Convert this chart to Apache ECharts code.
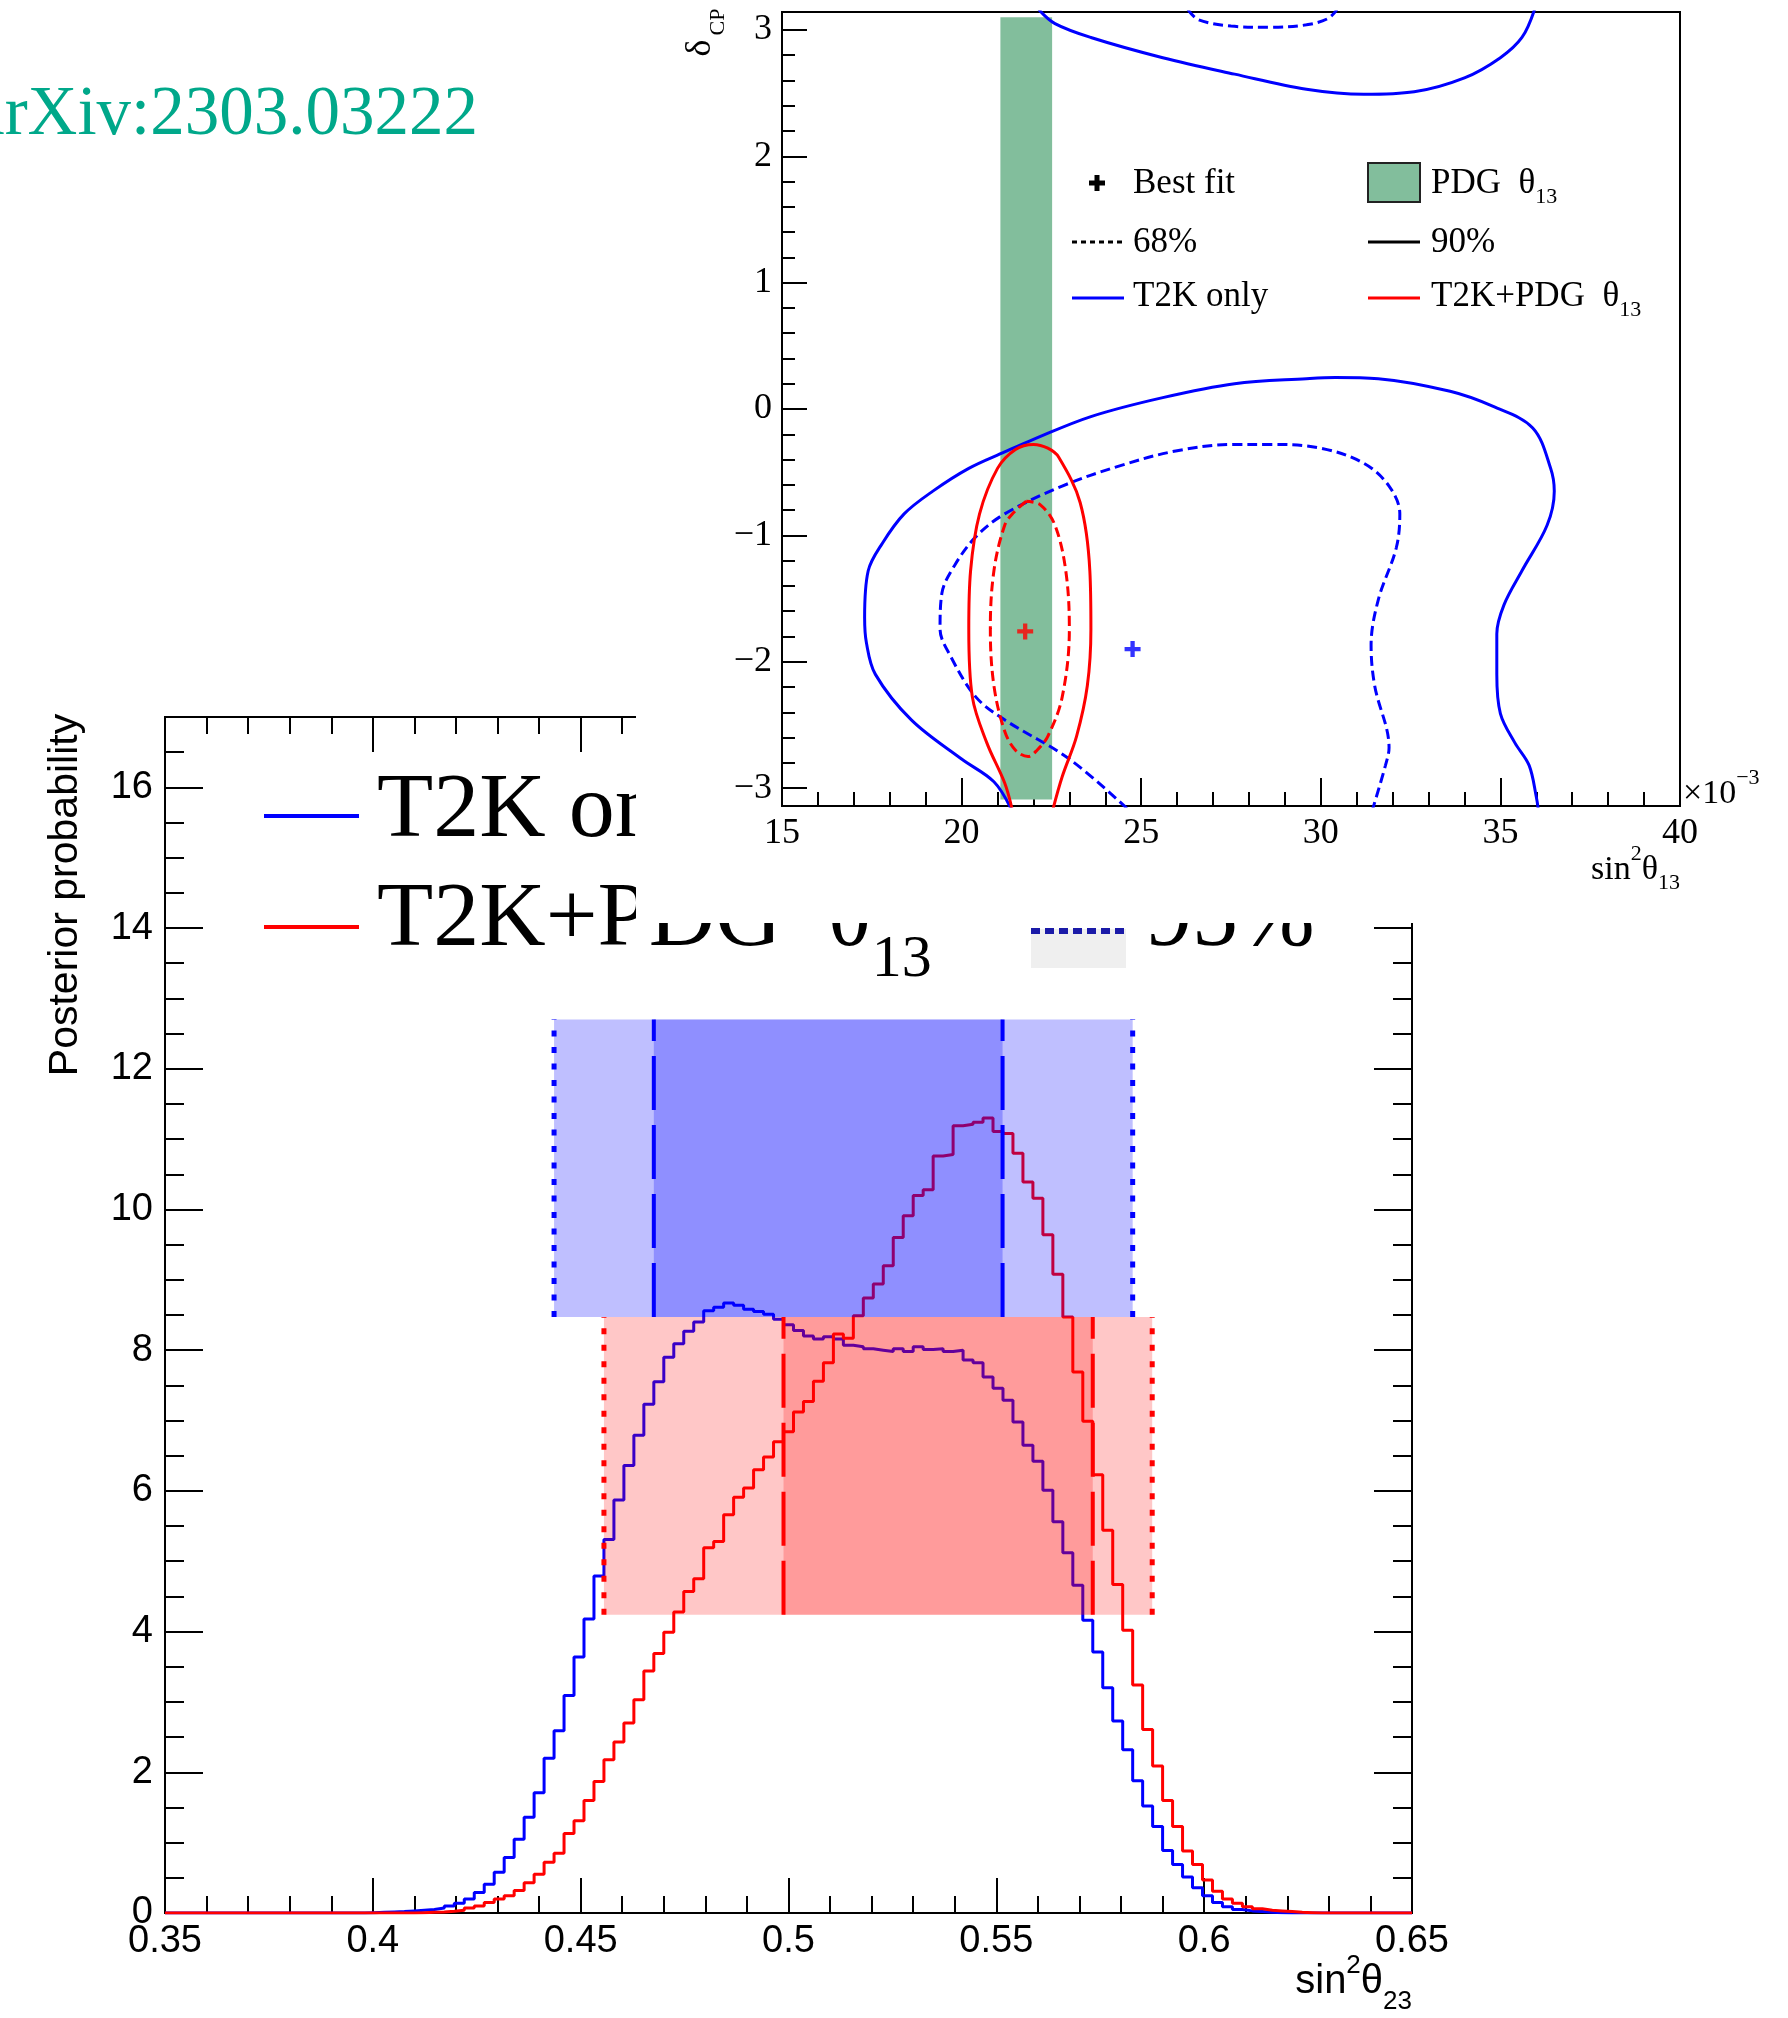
<!DOCTYPE html>
<html><head><meta charset="utf-8">
<script src="https://cdn.jsdelivr.net/npm/echarts@6/dist/echarts.min.js"></script>
<style>
html,body{margin:0;padding:0;background:#fff;width:1788px;height:2018px;overflow:hidden;}
#main{position:absolute;left:0;top:0;width:1788px;height:2018px;}
#inset{position:absolute;left:636px;top:0;width:1152px;height:923px;background:#fff;}
</style></head><body>
<div id="main"></div><div id="inset"></div>
<script>
// ---------------- data: posterior of sin^2(theta23) ----------------
const binStart = 0.35, binWidth = 0.0024; // 125 bins from 0.35 to 0.65
const t2kOnly = [
 0,0,0,0,0,0,0,0,0,0, 0,0,0,0,0,0,0,0,0,0,
 0.005,0.01,0.015,0.02,0.03,0.04,0.05,0.07,0.10,0.14,
 0.20,0.29,0.41,0.58,0.79,1.05,1.36,1.71,2.20,2.59,
 3.09,3.64,4.18,4.79,5.31,5.87,6.36,6.79,7.23,7.55,
 7.90,8.09,8.27,8.40,8.56,8.61,8.67,8.64,8.58,8.55,
 8.51,8.44,8.36,8.28,8.20,8.16,8.19,8.16,8.07,8.05,
 8.02,8.00,7.98,8.02,7.98,8.05,8.01,8.02,7.98,8.00,
 7.86,7.82,7.62,7.46,7.29,6.98,6.65,6.42,6.01,5.56,
 5.12,4.66,4.16,3.71,3.20,2.73,2.32,1.88,1.52,1.23,
 0.89,0.69,0.51,0.36,0.245,0.15,0.09,0.05,0.03,0.02,
 0.01,0.005,0,0,0,0,0,0,0,0,
 0,0,0,0,0
];
const t2kPdg = [
 0,0,0,0,0,0,0,0,0,0, 0,0,0,0,0,0,0,0,0,0, 0,0,0,0,0,
 0.005,0.01,0.015,0.025,0.04,
 0.07,0.10,0.15,0.20,0.245,0.32,0.43,0.55,0.72,0.85,
 1.13,1.31,1.60,1.87,2.18,2.43,2.70,3.03,3.44,3.69,
 3.99,4.28,4.57,4.75,5.19,5.28,5.66,5.91,6.04,6.30,
 6.48,6.70,6.84,7.12,7.27,7.56,7.82,8.23,8.17,8.49,
 8.74,8.94,9.20,9.60,9.91,10.20,10.28,10.76,10.78,11.19,
 11.21,11.24,11.30,11.11,11.08,10.80,10.39,10.16,9.64,9.08,
 8.47,7.69,6.99,6.23,5.44,4.67,4.02,3.24,2.61,2.09,
 1.60,1.23,0.88,0.69,0.47,0.31,0.20,0.14,0.09,0.06,
 0.04,0.03,0.02,0.01,0.005,0,0,0,0,0,
 0,0,0,0,0
];
// credible intervals (x) and band heights (y)
const blueCI95 = [0.4436, 0.5828];
const blueCI68 = [0.4676, 0.5515];
const redCI95  = [0.4556, 0.5875];
const redCI68  = [0.4988, 0.5732];
const blueBandY = [8.47, 12.7];
const redBandY  = [4.24, 8.47];
const postMajor = [0,2,4,6,8,10,12,14,16];
const postMinor = [0.5,1,1.5,2.5,3,3.5,4.5,5,5.5,6.5,7,7.5,8.5,9,9.5,10.5,11,11.5,12.5,13,13.5,14.5,15,15.5,16.5];
const s23Minor = [0.36,0.37,0.38,0.39,0.41,0.42,0.43,0.44,0.46,0.47,0.48,0.49,0.51,0.52,0.53,0.54,0.56,0.57,0.58,0.59,0.61,0.62,0.63,0.64];

// ---------------- data: sin^2(theta13) vs deltaCP contours ----------------
const pdgBand = [21.08, 22.52];
const pdgBandY = [-3.09, 3.10];
const t2k90Top = [[22.15,3.16],[22.6,3.05],[23.6,2.94],[25.6,2.78],[27.6,2.65],[29.6,2.53],[31.2,2.49],[32.6,2.51],[34.0,2.62],[35.0,2.78],[35.6,2.94],[35.95,3.16]];
const t2k90Main = [[21.37,-3.16],[20.9,-2.95],[20.0,-2.77],[18.6,-2.46],[17.6,-2.10],[17.35,-1.85],[17.3,-1.65],[17.4,-1.28],[17.8,-1.06],[18.4,-0.83],[19.2,-0.65],[20.2,-0.47],[21.2,-0.34],[22.0,-0.24],[23.6,-0.06],[25.6,0.09],[27.6,0.20],[29.6,0.24],[30.4,0.25],[31.6,0.24],[33.6,0.14],[34.8,0.02],[35.9,-0.15],[36.4,-0.47],[36.5,-0.65],[36.3,-0.92],[35.6,-1.28],[35.1,-1.55],[34.9,-1.78],[34.9,-2.1],[35.0,-2.41],[35.4,-2.64],[35.8,-2.82],[36.0,-3.07],[36.05,-3.16]];
const t2k68Top = [[26.3,3.16],[26.6,3.08],[27.5,3.03],[28.6,3.02],[29.6,3.04],[30.2,3.09],[30.45,3.16]];
const t2k68Main = [[24.6,-3.16],[23.0,-2.77],[21.2,-2.46],[20.4,-2.28],[19.7,-1.96],[19.4,-1.74],[19.45,-1.46],[19.8,-1.24],[20.4,-1.01],[21.2,-0.83],[22.8,-0.61],[24.4,-0.45],[26.0,-0.33],[27.6,-0.28],[28.6,-0.28],[30.0,-0.31],[31.2,-0.43],[31.9,-0.61],[32.2,-0.83],[32.1,-1.10],[31.6,-1.51],[31.4,-1.87],[31.5,-2.19],[31.9,-2.68],[31.8,-2.82],[31.45,-3.16]];
const pdg90 = [[21.4,-3.16],[21.2,-2.96],[20.7,-2.64],[20.3,-2.28],[20.2,-1.74],[20.25,-1.28],[20.5,-0.83],[21.0,-0.47],[21.5,-0.32],[22.0,-0.28],[22.4,-0.31],[22.7,-0.38],[23.3,-0.74],[23.57,-1.28],[23.6,-1.74],[23.5,-2.19],[23.2,-2.59],[22.8,-2.91],[22.55,-3.16]];
const pdg68 = [[21.8,-0.73],[21.45,-0.82],[21.2,-0.92],[20.9,-1.28],[20.8,-1.74],[20.9,-2.19],[21.2,-2.55],[21.5,-2.70],[21.85,-2.75],[22.1,-2.70],[22.4,-2.59],[22.8,-2.28],[23.0,-1.74],[22.9,-1.28],[22.6,-0.92],[22.2,-0.76],[21.8,-0.73]];
const bestFitT2K = [24.76, -1.90];
const bestFitPdg = [21.77, -1.76];
const dcpMajor = [-3,-2,-1,0,1,2,3];
const dcpMinor = [-2.8,-2.6,-2.4,-2.2,-1.8,-1.6,-1.4,-1.2,-0.8,-0.6,-0.4,-0.2,0.2,0.4,0.6,0.8,1.2,1.4,1.6,1.8,2.2,2.4,2.6,2.8];
const s13Minor = [16,17,18,19,21,22,23,24,26,27,28,29,31,32,33,34,36,37,38,39];

const SANS = "'Liberation Sans', Arial, Helvetica, sans-serif";
const SERIF = "'Liberation Serif', 'Times New Roman', serif";
const BLUE = '#0000ff', RED = '#ff0000';

const mctx = document.createElement('canvas').getContext('2d');
function tw(text, size, family){ mctx.font = size + 'px ' + family; return mctx.measureText(text).width; }

function steps(vals){
  const d = vals.map((v,i)=>[binStart + binWidth*i, v]);
  d.push([binStart + binWidth*vals.length, vals[vals.length-1]]);
  return d;
}
function txt(text, x, y, size, family, extra){
  const el = {type:'text', x:x, y:y, silent:true,
    style:Object.assign({text:text, fontSize:size, fontFamily:family, fill:'#000', align:'left', verticalAlign:'middle'}, (extra&&extra.style)||{})};
  if (extra && extra.rotation !== undefined) el.rotation = extra.rotation;
  return el;
}
function hline(x1,x2,y,color,w,dash){
  return {type:'line', silent:true, shape:{x1:x1,y1:y,x2:x2,y2:y}, style:{stroke:color, lineWidth:w, lineDash:dash||null}};
}
// sequence of text pieces [text, size, dy]; returns elements laid out left to right
function seq(x, y, family, pieces, rightAlign){
  let total = 0;
  pieces.forEach(p=>{ total += tw(p[0], p[1], family); });
  let cx = rightAlign ? x - total : x;
  const out = [];
  pieces.forEach(p=>{ out.push(txt(p[0], cx, y + (p[2]||0), p[1], family)); cx += tw(p[0], p[1], family); });
  return out;
}

// ================= bottom chart =================
const chart1 = echarts.init(document.getElementById('main'), null, {renderer:'canvas'});
const blk = {color:'#000', width:2};
function xAx(pos, showLbl){
  return {type:'value', gridIndex:0, position:pos, min:0.35, max:0.65, interval:0.05,
    axisLine:{show:true, onZero:false, lineStyle:blk},
    axisTick:{show:true, inside:true, length:35, lineStyle:blk},
    splitLine:{show:false},
    axisLabel:{show:showLbl, fontFamily:SANS, fontSize:38, color:'#000', margin:10,
      formatter:v=>String(+v.toFixed(2))}};
}
function xAxMinor(pos){
  return {type:'value', gridIndex:0, position:pos, min:0.35, max:0.65,
    axisLine:{show:false, onZero:false},
    axisTick:{show:true, inside:true, length:17, lineStyle:blk, customValues:s23Minor},
    splitLine:{show:false}, axisLabel:{show:false}};
}
function yAx(pos, ticks, len, showLbl){
  return {type:'value', gridIndex:0, position:pos, min:0, max:17,
    axisLine:{show:true, onZero:false, lineStyle:blk},
    axisTick:{show:true, inside:true, length:len, lineStyle:blk, customValues:ticks},
    splitLine:{show:false},
    axisLabel:{show:showLbl, customValues:ticks, fontFamily:SANS, fontSize:38, color:'#000', margin:12}};
}
const bands = [
  [blueCI95[0], blueCI95[1], blueBandY[0], blueBandY[1], 0],
  [blueCI68[0], blueCI68[1], blueBandY[0], blueBandY[1], 0],
  [redCI95[0], redCI95[1], redBandY[0], redBandY[1], 1],
  [redCI68[0], redCI68[1], redBandY[0], redBandY[1], 1]
];
const bandFill = ['rgba(0,0,255,0.25)', 'rgba(255,0,0,0.22)'];
const ciLines = [
  [blueCI95[0], blueBandY[0], blueBandY[1], 0], [blueCI95[1], blueBandY[0], blueBandY[1], 0],
  [blueCI68[0], blueBandY[0], blueBandY[1], 1], [blueCI68[1], blueBandY[0], blueBandY[1], 1],
  [redCI95[0], redBandY[0], redBandY[1], 2], [redCI95[1], redBandY[0], redBandY[1], 2],
  [redCI68[0], redBandY[0], redBandY[1], 3], [redCI68[1], redBandY[0], redBandY[1], 3]
];
const ciStyle = [
  {stroke:BLUE, lineWidth:5, lineDash:[6,10.5]},
  {stroke:BLUE, lineWidth:4, lineDash:[54,15]},
  {stroke:RED, lineWidth:5, lineDash:[6,10.5]},
  {stroke:RED, lineWidth:4, lineDash:[54,15]}
];

const g1 = [
  txt('arXiv:2303.03222', -26, 116, 69, SERIF, {style:{fill:'#00a88a'}}),
  txt('Posterior probability', 66, 895, 41, SANS, {rotation:Math.PI/2, style:{align:'center'}}),
  // legend
  hline(264, 359, 816, BLUE, 4),
  txt('T2K only', 377, 812, 92, SERIF),
  hline(264, 359, 927, RED, 4),
  {type:'rect', silent:true, shape:{x:1031, y:818, width:95, height:39}, style:{fill:'#d8d8d8'}},
  hline(1031, 1126, 820, '#1a1aa8', 6, [14,6]),
  txt('68%', 1146, 812, 92, SERIF),
  {type:'rect', silent:true, shape:{x:1031, y:929, width:95, height:39}, style:{fill:'#efefef'}},
  hline(1031, 1126, 931, '#1a1aa8', 6, [9,5]),
  txt('95%', 1146, 921, 92, SERIF)
].concat(
  seq(377, 921, SERIF, [['T2K+PDG  θ', 92, 0], ['13', 60, 39]]),
  seq(1412, 1982, SANS, [['sin', 40, 0], ['2', 26, -16], ['θ', 40, 0], ['23', 26, 20]], true)
);

chart1.setOption({
  animation:false,
  backgroundColor:'#fff',
  grid:[{left:165, top:717, width:1247, height:1196, show:true, borderColor:'#000', borderWidth:2, backgroundColor:'transparent'}],
  xAxis:[xAx('bottom', true), xAx('top', false), xAxMinor('bottom'), xAxMinor('top')],
  yAxis:[yAx('left', postMajor, 38, true), yAx('left', postMinor, 19, false),
         yAx('right', postMajor, 38, false), yAx('right', postMinor, 19, false)],
  series:[
    {name:'T2K only', type:'line', xAxisIndex:0, yAxisIndex:0, step:'end', showSymbol:false, z:2,
     data:steps(t2kOnly), lineStyle:{color:BLUE, width:3}, itemStyle:{color:BLUE}},
    {name:'T2K+PDG θ13', type:'line', xAxisIndex:0, yAxisIndex:0, step:'end', showSymbol:false, z:2,
     data:steps(t2kPdg), lineStyle:{color:RED, width:3}, itemStyle:{color:RED}},
    {type:'custom', xAxisIndex:0, yAxisIndex:0, z:5, data:bands, encode:{x:[0,1], y:[2,3]},
     renderItem:function(params, api){
       const p1 = api.coord([api.value(0), api.value(3)]);
       const p2 = api.coord([api.value(1), api.value(2)]);
       return {type:'rect', shape:{x:p1[0], y:p1[1], width:p2[0]-p1[0], height:p2[1]-p1[1]},
               style:{fill:bandFill[api.value(4)]}};
     }},
    {type:'custom', xAxisIndex:0, yAxisIndex:0, z:6, data:ciLines, encode:{x:[0], y:[1,2]},
     renderItem:function(params, api){
       const p1 = api.coord([api.value(0), api.value(1)]);
       const p2 = api.coord([api.value(0), api.value(2)]);
       const s = ciStyle[api.value(3)];
       return {type:'line', shape:{x1:p1[0], y1:p1[1], x2:p2[0], y2:p2[1]},
               style:{stroke:s.stroke, lineWidth:s.lineWidth, lineDash:s.lineDash, fill:null}};
     }}
  ],
  graphic:{elements:g1}
});

// ================= inset chart =================
const chart2 = echarts.init(document.getElementById('inset'), null, {renderer:'canvas'});
function dAx(ticks, len, showLbl){
  return {type:'value', gridIndex:0, position:'left', min:-Math.PI, max:Math.PI,
    axisLine:{show:true, onZero:false, lineStyle:blk},
    axisTick:{show:true, inside:true, length:len, lineStyle:blk, customValues:ticks},
    splitLine:{show:false},
    axisLabel:{show:showLbl, customValues:ticks, fontFamily:SERIF, fontSize:36, color:'#000', margin:10,
      formatter:v=>String(Math.round(v)).replace('-', '−')}};
}
function contour(data, color, dashed, name){
  return {name:name, type:'line', xAxisIndex:0, yAxisIndex:0, data:data, showSymbol:false, smooth:0.35, z:3,
    lineStyle:{color:color, width:3, type:dashed?[10,5]:'solid'}, itemStyle:{color:color}};
}
const plusPath = 'path://M3,0 L5.2,0 L5.2,3 L8.2,3 L8.2,5.2 L5.2,5.2 L5.2,8.2 L3,8.2 L3,5.2 L0,5.2 L0,3 L3,3 Z';
const L = 636; // inset offset in page coords
const g2 = [
  txt('δ', 701-L, 48, 36, SERIF, {rotation:Math.PI/2, style:{align:'center'}}),
  txt('CP', 718-L, 22, 22, SERIF, {rotation:Math.PI/2, style:{align:'center'}}),
  // legend
  {type:'rect', silent:true, shape:{x:1089-L, y:180.5, width:16, height:5}, style:{fill:'#000'}},
  {type:'rect', silent:true, shape:{x:1094.5-L, y:175, width:5, height:16}, style:{fill:'#000'}},
  txt('Best fit', 1133-L, 184, 35, SERIF),
  {type:'rect', silent:true, shape:{x:1368-L, y:163, width:52, height:39}, style:{fill:'#82be9c', stroke:'#222', lineWidth:2}},
  hline(1072-L, 1124-L, 242, '#000', 3, [5,4]),
  txt('68%', 1133-L, 243, 35, SERIF),
  hline(1368-L, 1420-L, 242, '#000', 3),
  txt('90%', 1431-L, 243, 35, SERIF),
  hline(1072-L, 1124-L, 298, BLUE, 3),
  txt('T2K only', 1133-L, 297, 35, SERIF),
  hline(1368-L, 1420-L, 298, RED, 3)
].concat(
  seq(1431-L, 184, SERIF, [['PDG  θ', 35, 0], ['13', 22, 13]]),
  seq(1431-L, 297, SERIF, [['T2K+PDG  θ', 35, 0], ['13', 22, 13]]),
  seq(1683-L, 794, SERIF, [['×10', 34, 0], ['−3', 22, -16]]),
  seq(1680-L, 870, SERIF, [['sin', 34, 0], ['2', 22, -16], ['θ', 34, 0], ['13', 22, 13]], true)
);
chart2.setOption({
  animation:false,
  backgroundColor:'#fff',
  grid:[{left:146, top:12, width:898, height:794, show:true, borderColor:'#000', borderWidth:2, backgroundColor:'transparent'}],
  xAxis:[
    {type:'value', gridIndex:0, position:'bottom', min:15, max:40, interval:5,
     axisLine:{show:true, onZero:false, lineStyle:blk},
     axisTick:{show:true, inside:true, length:28, lineStyle:blk},
     splitLine:{show:false},
     axisLabel:{fontFamily:SERIF, fontSize:36, color:'#000', margin:10}},
    {type:'value', gridIndex:0, position:'bottom', min:15, max:40,
     axisLine:{show:false, onZero:false},
     axisTick:{show:true, inside:true, length:14, lineStyle:blk, customValues:s13Minor},
     splitLine:{show:false}, axisLabel:{show:false}}
  ],
  yAxis:[dAx(dcpMajor, 25, true), dAx(dcpMinor, 13, false)],
  series:[
    {type:'custom', xAxisIndex:0, yAxisIndex:0, z:1, data:[[pdgBand[0], pdgBand[1], pdgBandY[0], pdgBandY[1]]],
     encode:{x:[0,1], y:[2,3]},
     renderItem:function(params, api){
       const p1 = api.coord([api.value(0), api.value(3)]);
       const p2 = api.coord([api.value(1), api.value(2)]);
       return {type:'rect', shape:{x:p1[0], y:p1[1], width:p2[0]-p1[0], height:p2[1]-p1[1]}, style:{fill:'#82be9c'}};
     }},
    contour(t2k90Top, BLUE, false, 'T2K only 90%'),
    contour(t2k90Main, BLUE, false, 'T2K only 90%'),
    contour(t2k68Top, BLUE, true, 'T2K only 68%'),
    contour(t2k68Main, BLUE, true, 'T2K only 68%'),
    contour(pdg90, RED, false, 'T2K+PDG 90%'),
    contour(pdg68, RED, true, 'T2K+PDG 68%'),
    {type:'scatter', xAxisIndex:0, yAxisIndex:0, z:6, symbol:plusPath, symbolSize:16,
     data:[bestFitT2K], itemStyle:{color:BLUE}},
    {type:'scatter', xAxisIndex:0, yAxisIndex:0, z:6, symbol:plusPath, symbolSize:16,
     data:[bestFitPdg], itemStyle:{color:RED}}
  ],
  graphic:{elements:g2}
});
</script></body></html>
